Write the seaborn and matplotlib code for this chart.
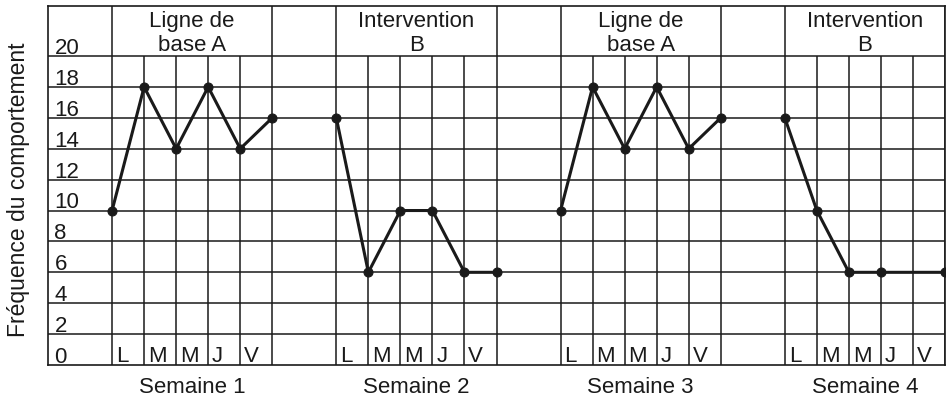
import numpy as np
import pandas as pd
import matplotlib
matplotlib.use("Agg")
import matplotlib.pyplot as plt
import seaborn as sns

# --- données ---
semaines = ["Semaine 1", "Semaine 2", "Semaine 3", "Semaine 4"]
phases = ["Ligne de\nbase A", "Intervention\nB", "Ligne de\nbase A", "Intervention\nB"]
jours = ["L", "M", "M", "J", "V"]
y_labels = [0, 2, 4, 6, 8, 10, 12, 14, 16, 18, 20]

# index du point dans la semaine (0 = L ... 5 = fin de semaine)
idx_s1 = [0, 1, 2, 3, 4, 5]
val_s1 = [10, 18, 14, 18, 14, 16]
idx_s2 = [0, 1, 2, 3, 4, 5]
val_s2 = [16, 6, 10, 10, 6, 6]
idx_s3 = [0, 1, 2, 3, 4, 5]
val_s3 = [10, 18, 14, 18, 14, 16]
idx_s4 = [0, 1, 2, 3, 5]
val_s4 = [16, 10, 6, 6, 6]

sns.set_style("white")
plt.rcParams["font.family"] = ["Liberation Sans", "DejaVu Sans"]

INK = "#1a1a1a"
FS = 16
week_start = [2, 9, 16, 23]   # colonne de départ de chaque semaine
YTOP = 23.24

fig = plt.figure(figsize=(9.46, 4.02), dpi=100)
ax = fig.add_axes([48 / 946, 1 - 366 / 402, 897 / 946, 359 / 402])
ax.set_xlim(0, 28)
ax.set_ylim(0, YTOP)
ax.set_xticks([])
ax.set_yticks([])
for sp in ax.spines.values():
    sp.set_color(INK)
    sp.set_linewidth(1.2)

# quadrillage
lw = 1.1
ax.hlines(y_labels[1:], 0, 28, color=INK, lw=lw, zorder=1)
for s in week_start:
    ax.vlines([s, s + 5], 0, YTOP, color=INK, lw=lw, zorder=1)
    ax.vlines([s + 1, s + 2, s + 3, s + 4], 0, 20, color=INK, lw=lw, zorder=1)

# étiquettes de l'axe y dans la première colonne
for v in y_labels:
    ax.text(0.2, v + 0.2, str(v), fontsize=FS, color=INK, ha="left", va="baseline")

# jours, phases et semaines
for s, ph, sem in zip(week_start, phases, semaines):
    for k, j in enumerate(jours):
        ax.text(s + k + 0.12, 0.26, j, fontsize=FS, color=INK, ha="left", va="baseline")
    ax.text(s + 2.5, 21.5, ph, fontsize=FS, color=INK, ha="center", va="center",
            linespacing=1.2)
    ax.text(s + 2.5, -1.4, sem, fontsize=FS, color=INK, ha="center", va="center",
            clip_on=False)

# séries
series = [(idx_s1, val_s1), (idx_s2, val_s2), (idx_s3, val_s3), (idx_s4, val_s4)]
for s, (idx, val) in zip(week_start, series):
    df = pd.DataFrame({"x": [s + i for i in idx], "y": val})
    sns.lineplot(data=df, x="x", y="y", ax=ax, color=INK, lw=2.2, marker="o",
                 markersize=6.5, markeredgecolor=INK, markerfacecolor=INK,
                 estimator=None, sort=False, zorder=3, clip_on=False)
ax.set_xlabel("")
ax.set_ylabel("")

fig.text(19 / 946, 1 - 190 / 402, "Fréquence du comportement", rotation=90,
         fontsize=16.5, color=INK, ha="center", va="center")

fig.savefig("out.png", dpi=100)
